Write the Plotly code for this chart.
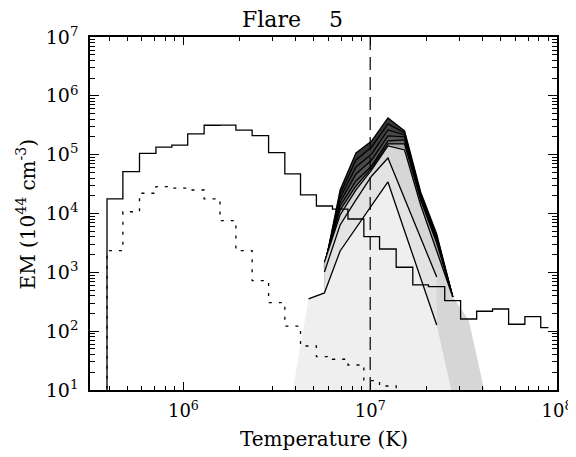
import plotly.graph_objects as go

# ---------------- data ----------------
# histogram bin edges, log10 T (K)
logT_edges = [5.591, 5.676, 5.765, 5.853, 5.938, 6.023, 6.111, 6.196, 6.281, 6.368,
              6.456, 6.543, 6.627, 6.712, 6.798, 6.881, 6.966, 7.050, 7.139, 7.228,
              7.312, 7.399, 7.484, 7.570, 7.655, 7.741, 7.828, 7.913, 7.954]
# solid histogram EM (1e44 cm^-3)
em_solid = [1.77e4, 5.14e4, 1.05e5, 1.34e5, 1.45e5, 2.25e5, 3.16e5, 3.19e5, 2.62e5, 2.10e5,
            1.08e5, 4.70e4, 2.07e4, 1.34e4, 1.19e4, 8.07e3, 4.04e3, 2.49e3, 1.22e3, 610,
            570, 330, 161, 218, 238, 131, 176, 115]
# dotted histogram EM
em_dotted = [2.33e3, 1.07e4, 2.21e4, 2.86e4, 2.69e4, 2.51e4, 1.77e4, 7.55e3, 2.33e3, 721,
             305, 122, 56, 36.8, 33.3, 26.6, 14.4, 11.7]

# DEM solution nodes (log10 T)
logT_nodes = [6.585, 6.670, 6.755, 6.839, 6.924, 7.008, 7.095, 7.184, 7.270, 7.356,
              7.442, 7.527, 7.613]
# log10 EM of each solution
dem_D1 = [3.074, 4.400, 5.029, 5.233, 5.624, 5.403, 4.366, 3.652, 2.581]
dem_D2 = [3.091, 4.332, 4.910, 5.131, 5.522, 5.369, 4.332, 3.618, 2.581]
dem_D3 = [3.108, 4.264, 4.791, 5.012, 5.420, 5.335, 4.298, 3.584, 2.581]
dem_D4 = [3.125, 4.196, 4.672, 4.910, 5.318, 5.301, 4.281, 3.567, 2.581]
dem_D5 = [3.142, 4.128, 4.553, 4.808, 5.233, 5.250, 4.264, 3.550, 2.581]
dem_D6 = [3.159, 4.060, 4.468, 4.774, 5.182, 5.182, 4.230, 3.499, 2.581]
dem_B = [3.176, 3.975, 4.400, 4.740, 5.148, 5.080, 4.145, 3.380, 2.581, 2.190, 0.966]
dem_C = [3.006, 3.805, 4.230, 4.638, 4.944, 4.247, 3.584, 2.921]
dem_A = [0.983, 2.547, 2.649, 3.363, 3.754, 4.145, 4.536, 3.703, 2.904, 2.105, 0.881]

solutions = [
    # values, first node idx, outline from, outline to (relative), fill colour
    (dem_D1, 2, 0, 8, "#363636"),
    (dem_D2, 2, 0, 8, "#404040"),
    (dem_D3, 2, 0, 8, "#4a4a4a"),
    (dem_D4, 2, 0, 8, "#565656"),
    (dem_D5, 2, 0, 8, "#6a6a6a"),
    (dem_D6, 2, 0, 8, "#a6a6a6"),
    (dem_B, 2, 0, 8, "#d6d6d6"),
    (dem_C, 2, 0, 7, "#e3e3e3"),
    (dem_A, 0, 1, 9, "#efefef"),
]

x_ticks = [1e6, 1e7, 1e8]
x_ticktext = ["10<sup>6</sup>", "10<sup>7</sup>", "10<sup>8</sup>"]
y_ticks = [1e1, 1e2, 1e3, 1e4, 1e5, 1e6, 1e7]
y_ticktext = ["10<sup>1</sup>", "10<sup>2</sup>", "10<sup>3</sup>", "10<sup>4</sup>",
              "10<sup>5</sup>", "10<sup>6</sup>", "10<sup>7</sup>"]

LOW = 1.0  # below the plotted range

# ---------------- figure ----------------
fig = go.Figure()

for vals, i0, o0, o1, col in solutions:
    xs = [10 ** logT_nodes[i0 + k] for k in range(len(vals))]
    ys = [10 ** v for v in vals]
    fig.add_trace(go.Scatter(
        x=[xs[0]] + xs + [xs[-1]], y=[LOW] + ys + [LOW],
        mode="lines", fill="toself", fillcolor=col,
        line=dict(width=0), hoverinfo="skip", showlegend=False))
    fig.add_trace(go.Scatter(
        x=xs[o0:o1 + 1], y=ys[o0:o1 + 1], mode="lines",
        line=dict(color="black", width=1.3), hoverinfo="skip", showlegend=False))

T_edges = [10 ** e for e in logT_edges]

# solid histogram
fig.add_trace(go.Scatter(
    x=[T_edges[0]] + T_edges,
    y=[LOW] + em_solid + [em_solid[-1]],
    mode="lines", line=dict(color="black", width=1.3, shape="hv"),
    showlegend=False, hoverinfo="skip"))

# dotted histogram
nd = len(em_dotted)
fig.add_trace(go.Scatter(
    x=[T_edges[0]] + T_edges[:nd + 1],
    y=[LOW] + em_dotted + [LOW],
    mode="lines", line=dict(color="black", width=1.3, shape="hv", dash="3px,7px"),
    showlegend=False, hoverinfo="skip"))

# dashed vertical at 10^7 K
fig.add_trace(go.Scatter(
    x=[1e7, 1e7], y=[1e1, 1e7], mode="lines",
    line=dict(color="black", width=1.2, dash="13px,7px"),
    showlegend=False, hoverinfo="skip"))

x_minor = [m * 10 ** k for k in range(5, 8) for m in range(2, 10)]
y_minor = [m * 10 ** k for k in range(1, 7) for m in range(2, 10)]

font_family = "DejaVu Serif"

# page body has an 8px default margin: the figure is sized to fit the window
fig.update_layout(
    width=568, height=449,
    margin=dict(l=82, r=19, t=29, b=67, autoexpand=False),
    paper_bgcolor="white", plot_bgcolor="white",
    font=dict(family=font_family, color="black", size=19),
    showlegend=False,
    xaxis=dict(
        type="log", range=[5.5, 8], showgrid=False, zeroline=False, automargin=False,
        showline=True, linecolor="black", linewidth=1.5, mirror="ticks",
        ticks="inside", ticklen=8, tickwidth=1.2, tickcolor="black",
        tickmode="array", tickvals=x_ticks, ticktext=x_ticktext,
        tickfont=dict(size=18, family=font_family),
        ticklabelstandoff=4,
        minor=dict(ticks="inside", ticklen=4, tickwidth=1, tickcolor="black",
                   tickmode="array", tickvals=x_minor, showgrid=False),
    ),
    yaxis=dict(
        type="log", range=[1, 7], showgrid=False, zeroline=False, automargin=False,
        showline=True, linecolor="black", linewidth=1.5, mirror="ticks",
        ticks="inside", ticklen=9, tickwidth=1.2, tickcolor="black",
        tickmode="array", tickvals=y_ticks, ticktext=y_ticktext,
        tickfont=dict(size=19, family=font_family),
        ticklabelstandoff=6,
        minor=dict(ticks="inside", ticklen=5, tickwidth=1, tickcolor="black",
                   tickmode="array", tickvals=y_minor, showgrid=False),
    ),
    annotations=[
        dict(text="Flare\u00a0\u00a0\u00a0\u00a05", xref="paper", yref="paper",
             x=0.434, y=1 + 17 / 353, xanchor="center", yanchor="middle",
             showarrow=False, font=dict(size=22, family=font_family)),
        dict(text="Temperature (K)", xref="paper", yref="paper",
             x=0.5, y=-49 / 353, xanchor="center", yanchor="middle",
             showarrow=False, font=dict(size=20, family=font_family)),
        dict(text="EM (10<sup>44</sup> cm<sup>-3</sup>)", xref="paper", yref="paper",
             x=-64 / 466.7, y=0.5, xanchor="center", yanchor="middle",
             textangle=-90, showarrow=False, font=dict(size=20, family=font_family)),
    ],
)

fig.write_html("out.html")
